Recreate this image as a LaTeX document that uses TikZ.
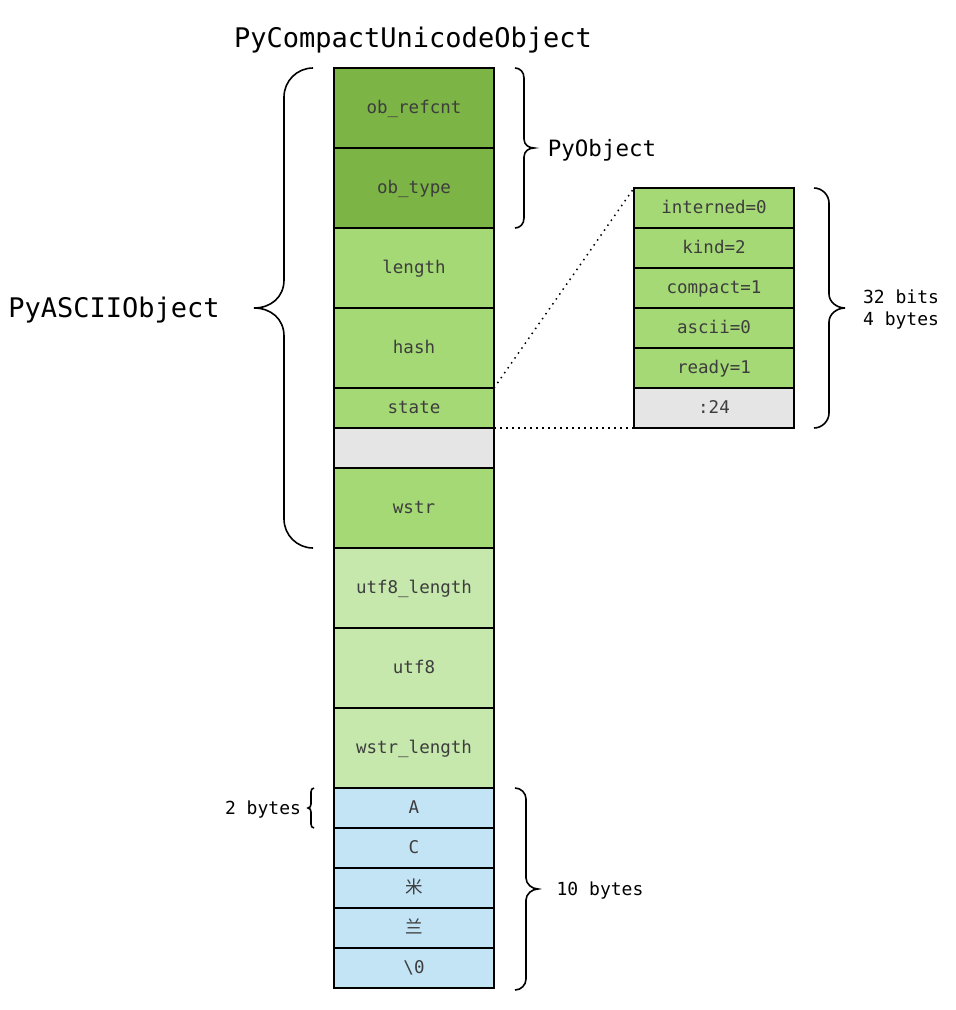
\documentclass[tikz,border=0pt]{standalone}
\usepackage{fontspec}
\setmonofont{DejaVu Sans Mono}
\newfontfamily\cjk{Noto Sans CJK SC}
\usetikzlibrary{positioning}

\definecolor{hdgreen}{HTML}{7CB446}
\definecolor{midgreen}{HTML}{A5D975}
\definecolor{litgreen}{HTML}{C6E8AC}
\definecolor{bytblue}{HTML}{C3E4F5}
\definecolor{padgray}{HTML}{E5E5E5}
\definecolor{celltext}{HTML}{3D3D3D}

\tikzset{
  field/.style={draw=black,line width=1.5pt,minimum width=160pt,minimum height=80pt,
    inner sep=0pt,outer sep=0pt,text=celltext,font=\ttfamily\fontsize{17.5}{20}\selectfont,
    text height=12.5pt,text depth=1pt},
  halffield/.style={field,minimum height=40pt},
  bitfield/.style={halffield,fill=midgreen},
  bracepath/.style={draw=black,line width=1.6pt},
  label/.style={inner sep=0pt,font=\ttfamily\fontsize{18}{22}\selectfont,align=left},
  biglabel/.style={inner sep=0pt,font=\ttfamily\fontsize{27}{30}\selectfont}
}

\begin{document}
\begin{tikzpicture}[x=1pt,y=-1pt]
\useasboundingbox (0,0) rectangle (956,1010);

% main column
\node[field,fill=hdgreen] (refcnt) at (414,108) {ob\_refcnt};
\node[field,fill=hdgreen,below=0pt of refcnt] (type) {ob\_type};
\node[field,fill=midgreen,below=0pt of type] (length) {length};
\node[field,fill=midgreen,below=0pt of length] (hash) {hash};
\node[halffield,fill=midgreen,below=0pt of hash] (state) {state};
\node[halffield,fill=padgray,below=0pt of state] (pad) {};
\node[field,fill=midgreen,below=0pt of pad] (wstr) {wstr};
\node[field,fill=litgreen,below=0pt of wstr] (utflen) {utf8\_length};
\node[field,fill=litgreen,below=0pt of utflen] (utf) {utf8};
\node[field,fill=litgreen,below=0pt of utf] (wstrlen) {wstr\_length};
\node[halffield,fill=bytblue,below=0pt of wstrlen] (chA) {A};
\node[halffield,fill=bytblue,below=0pt of chA] (chC) {C};
\node[halffield,fill=bytblue,below=0pt of chC] (chMi) {\cjk 米};
\node[halffield,fill=bytblue,below=0pt of chMi] (chLan) {\cjk 兰};
\node[halffield,fill=bytblue,below=0pt of chLan] (chNul) {\textbackslash0};

% state bits
\node[bitfield] (interned) at (714,208) {interned=0};
\node[bitfield,below=0pt of interned] (kind) {kind=2};
\node[bitfield,below=0pt of kind] (compact) {compact=1};
\node[bitfield,below=0pt of compact] (ascii) {ascii=0};
\node[bitfield,below=0pt of ascii] (ready) {ready=1};
\node[halffield,fill=padgray,below=0pt of ready] (rest) {:24};

\draw[line width=1.5pt,dash pattern=on 1.5pt off 4.5pt] (state.north east) -- (interned.north west);
\draw[line width=1.5pt,dash pattern=on 1.5pt off 4.5pt] (state.south east) -- (rest.south west);

% braces
\draw[bracepath] (313,68) .. controls (297,68) and (284,81) .. (284,97) -- (284,280)
  .. controls (284,297) and (271,308) .. (254,308) .. controls (271,308) and (284,319) .. (284,336)
  -- (284,519) .. controls (284,535) and (297,548) .. (313,548);
\draw[bracepath] (515,68) .. controls (520,68) and (524,72) .. (524,78) -- (524,139)
  .. controls (524,145) and (529,148) .. (534,148) .. controls (529,148) and (524,151) .. (524,157)
  -- (524,218) .. controls (524,224) and (520,228) .. (515,228);
\draw[bracepath] (814,188) .. controls (822,188) and (829,195) .. (829,203) -- (829,294)
  .. controls (829,302) and (837,308) .. (845,308) .. controls (837,308) and (829,314) .. (829,322)
  -- (829,413) .. controls (829,421) and (822,428) .. (814,428);
\draw[bracepath] (515,788) .. controls (521,788) and (526,793) .. (526,799) -- (526,878)
  .. controls (526,884) and (532,889) .. (538,889) .. controls (532,889) and (526,894) .. (526,900)
  -- (526,979) .. controls (526,985) and (521,990) .. (515,990);
\draw[bracepath] (314,788) .. controls (312,788) and (311,790) .. (311,792) -- (311,804)
  .. controls (311,806) and (310,808) .. (308,808) .. controls (310,808) and (311,810) .. (311,812)
  -- (311,824) .. controls (311,826) and (312,828) .. (314,828);

% labels
\node[biglabel] (compactlbl) at (413,40) {PyCompactUnicodeObject};
\node[biglabel] (asciilbl) at (114,310) {PyASCIIObject};
\node[inner sep=0pt,font=\ttfamily\fontsize{22.5}{26}\selectfont] (pyobjlbl) at (602,150) {PyObject};
\node[label] (bitslbl) at (901,310) {32 bits\\4 bytes};
\node[label] (tenlbl) at (600,891) {10 bytes};
\node[label] (twolbl) at (263,810) {2 bytes};
\end{tikzpicture}
\end{document}
